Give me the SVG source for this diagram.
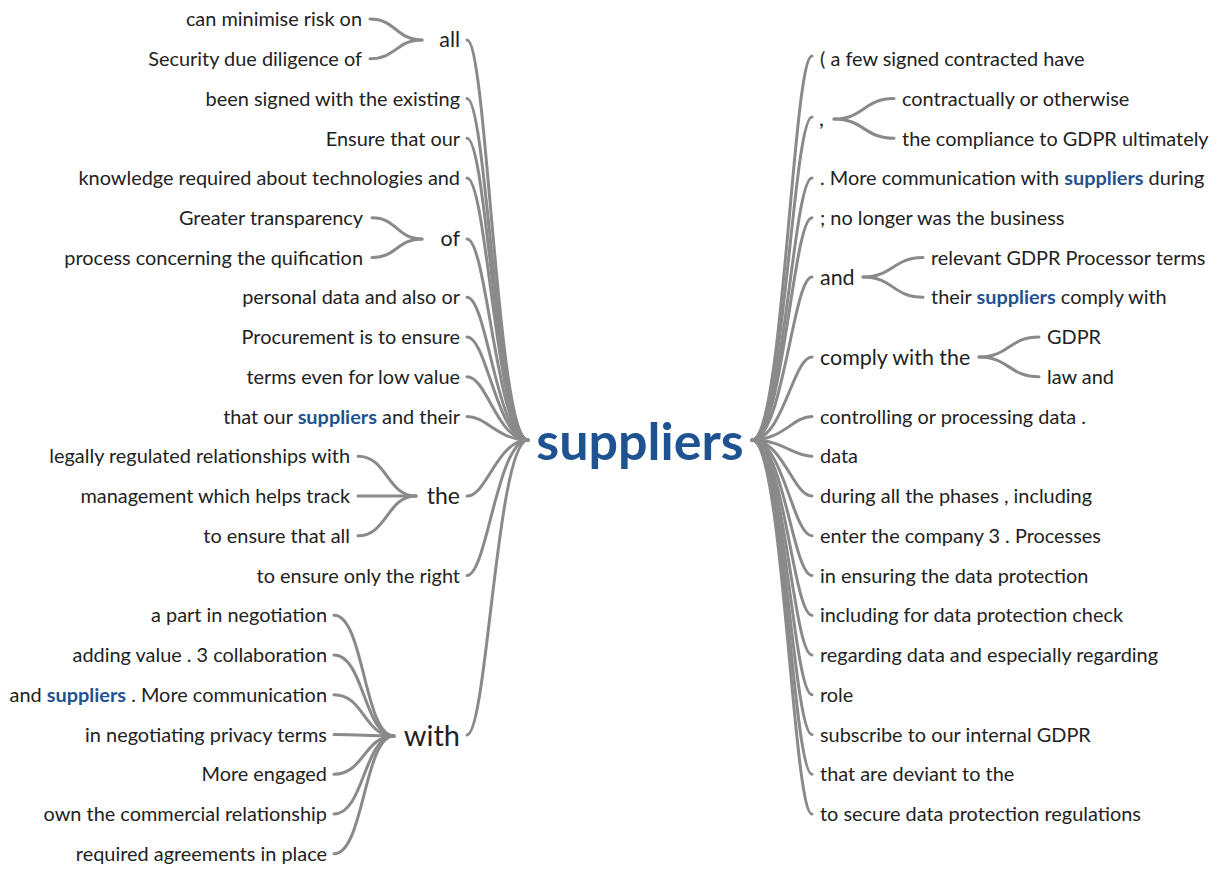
<svg xmlns="http://www.w3.org/2000/svg" width="1221" height="869" viewBox="0 0 1221 869">
<style>
text{font-family:Lato,"Open Sans","Liberation Sans",sans-serif;fill:#222;}
.l{font-size:19.9px;}
.e{text-anchor:end;}
.s2{font-size:21.4px;}
.b{fill:#1f5290;font-weight:bold;}
.c{fill:none;stroke:#8a8a8a;stroke-width:3;stroke-linecap:round;}
</style>
<rect width="1221" height="869" fill="#fff"/>
<g id="connectors">
<path class="c" d="M528,440 C497,440 487,40 467,40"/>
<path class="c" d="M528,440 C497,440 487,98.5 467,98.5"/>
<path class="c" d="M528,440 C497,440 487,138.25 467,138.25"/>
<path class="c" d="M528,440 C497,440 487,178 467,178"/>
<path class="c" d="M528,440 C497,440 487,239 467,239"/>
<path class="c" d="M528,440 C497,440 487,297.25 467,297.25"/>
<path class="c" d="M528,440 C497,440 487,337 467,337"/>
<path class="c" d="M528,440 C497,440 487,376.75 467,376.75"/>
<path class="c" d="M528,440 C497,440 487,416.5 467,416.5"/>
<path class="c" d="M528,440 C497,440 487,496 467,496"/>
<path class="c" d="M528,440 C497,440 487,575.5 467,575.5"/>
<path class="c" d="M528,440 C497,440 487,735 467,735"/>
<path class="c" d="M422,40 C396,40 396,19 370,19"/>
<path class="c" d="M422,40 C396,40 396,58.75 370,58.75"/>
<path class="c" d="M422,239 C397,239 397,217.75 372,217.75"/>
<path class="c" d="M422,239 C397,239 397,257.5 372,257.5"/>
<path class="c" d="M416,496 C387,496 387,456.25 358,456.25"/>
<path class="c" d="M416,496 C387,496 387,496 358,496"/>
<path class="c" d="M416,496 C387,496 387,535.75 358,535.75"/>
<path class="c" d="M394,736 C364,736 364,615.25 334,615.25"/>
<path class="c" d="M394,736 C364,736 364,655 334,655"/>
<path class="c" d="M394,736 C364,736 364,694.75 334,694.75"/>
<path class="c" d="M394,736 C364,736 364,734.5 334,734.5"/>
<path class="c" d="M394,736 C364,736 364,774.25 334,774.25"/>
<path class="c" d="M394,736 C364,736 364,814 334,814"/>
<path class="c" d="M394,736 C364,736 364,853.75 334,853.75"/>
<path class="c" d="M752,440 C783,440 793,56 812,56"/>
<path class="c" d="M752,440 C783,440 793,117 812,117"/>
<path class="c" d="M752,440 C783,440 793,178 812,178"/>
<path class="c" d="M752,440 C783,440 793,217.75 812,217.75"/>
<path class="c" d="M752,440 C783,440 793,277 812,277"/>
<path class="c" d="M752,440 C783,440 793,357 812,357"/>
<path class="c" d="M752,440 C783,440 793,416.5 812,416.5"/>
<path class="c" d="M752,440 C783,440 793,456.25 812,456.25"/>
<path class="c" d="M752,440 C783,440 793,496 812,496"/>
<path class="c" d="M752,440 C783,440 793,535.75 812,535.75"/>
<path class="c" d="M752,440 C783,440 793,575.5 812,575.5"/>
<path class="c" d="M752,440 C783,440 793,615.25 812,615.25"/>
<path class="c" d="M752,440 C783,440 793,655 812,655"/>
<path class="c" d="M752,440 C783,440 793,694.75 812,694.75"/>
<path class="c" d="M752,440 C783,440 793,734.5 812,734.5"/>
<path class="c" d="M752,440 C783,440 793,774.25 812,774.25"/>
<path class="c" d="M752,440 C783,440 793,814 812,814"/>
<path class="c" d="M834,119 C864,119 864,98.5 894,98.5"/>
<path class="c" d="M834,119 C864,119 864,138.25 894,138.25"/>
<path class="c" d="M863,277 C893,277 893,257.5 923,257.5"/>
<path class="c" d="M863,277 C893,277 893,297.25 923,297.25"/>
<path class="c" d="M979,357 C1009,357 1009,337 1039,337"/>
<path class="c" d="M979,357 C1009,357 1009,376.75 1039,376.75"/>
</g>
<g id="center"><text x="640" y="460" style="font-size:52px;font-weight:bold;fill:#1f5290;text-anchor:middle">suppliers</text></g>
<g id="n-all"><text class="e s2" x="460" y="47">all</text></g>
<g id="l-0"><text class="l e" x="362" y="26">can minimise risk on</text></g>
<g id="l-1"><text class="l e" x="362" y="66">Security due diligence of</text></g>
<g id="l-2"><text class="l e" x="460" y="106">been signed with the existing</text></g>
<g id="l-3"><text class="l e" x="460" y="146">Ensure that our</text></g>
<g id="l-4"><text class="l e" x="460" y="185">knowledge required about technologies and</text></g>
<g id="n-of"><text class="e s2" x="460" y="246">of</text></g>
<g id="l-5"><text class="l e" x="363" y="225">Greater transparency</text></g>
<g id="l-6"><text class="l e" x="363" y="265">process concerning the quification</text></g>
<g id="l-7"><text class="l e" x="460" y="304">personal data and also or</text></g>
<g id="l-8"><text class="l e" x="460" y="344">Procurement is to ensure</text></g>
<g id="l-9"><text class="l e" x="460" y="384">terms even for low value</text></g>
<g id="l-10"><text class="l e" x="460" y="424">that our <tspan class="b">suppliers</tspan> and their</text></g>
<g id="n-the"><text class="e" x="460" y="504" style="font-size:23px">the</text></g>
<g id="l-11"><text class="l e" x="350" y="463">legally regulated relationships with</text></g>
<g id="l-12"><text class="l e" x="350" y="503">management which helps track</text></g>
<g id="l-13"><text class="l e" x="350" y="543">to ensure that all</text></g>
<g id="l-14"><text class="l e" x="460" y="583">to ensure only the right</text></g>
<g id="n-with"><text class="e" x="460" y="746" style="font-size:29px">with</text></g>
<g id="l-15"><text class="l e" x="327" y="622">a part in negotiation</text></g>
<g id="l-16"><text class="l e" x="327" y="662">adding value . 3 collaboration</text></g>
<g id="l-17"><text class="l e" x="327" y="702">and <tspan class="b">suppliers</tspan> . More communication</text></g>
<g id="l-18"><text class="l e" x="327" y="742">in negotiating privacy terms</text></g>
<g id="l-19"><text class="l e" x="327" y="781">More engaged</text></g>
<g id="l-20"><text class="l e" x="327" y="821">own the commercial relationship</text></g>
<g id="l-21"><text class="l e" x="327" y="861">required agreements in place</text></g>
<g id="r-0"><text class="l" x="820" y="66">( a few signed contracted have</text></g>
<g id="n-comma"><text class="s2" x="819" y="126">,</text></g>
<g id="r-1"><text class="l" x="902" y="106">contractually or otherwise</text></g>
<g id="r-2"><text class="l" x="902" y="146">the compliance to GDPR ultimately</text></g>
<g id="r-3"><text class="l" x="820" y="185">. More communication with <tspan class="b">suppliers</tspan> during</text></g>
<g id="r-4"><text class="l" x="820" y="225">; no longer was the business</text></g>
<g id="n-and"><text class="s2" x="820" y="285">and</text></g>
<g id="r-5"><text class="l" x="931" y="265">relevant GDPR Processor terms</text></g>
<g id="r-6"><text class="l" x="931" y="304">their <tspan class="b">suppliers</tspan> comply with</text></g>
<g id="n-comply"><text class="s2" x="820" y="365">comply with the</text></g>
<g id="r-7"><text class="l" x="1047" y="344">GDPR</text></g>
<g id="r-8"><text class="l" x="1047" y="384">law and</text></g>
<g id="r-9"><text class="l" x="820" y="424">controlling or processing data .</text></g>
<g id="r-10"><text class="l" x="820" y="463">data</text></g>
<g id="r-11"><text class="l" x="820" y="503">during all the phases , including</text></g>
<g id="r-12"><text class="l" x="820" y="543">enter the company 3 . Processes</text></g>
<g id="r-13"><text class="l" x="820" y="583">in ensuring the data protection</text></g>
<g id="r-14"><text class="l" x="820" y="622">including for data protection check</text></g>
<g id="r-15"><text class="l" x="820" y="662">regarding data and especially regarding</text></g>
<g id="r-16"><text class="l" x="820" y="702">role</text></g>
<g id="r-17"><text class="l" x="820" y="742">subscribe to our internal GDPR</text></g>
<g id="r-18"><text class="l" x="820" y="781">that are deviant to the</text></g>
<g id="r-19"><text class="l" x="820" y="821">to secure data protection regulations</text></g>
</svg>
